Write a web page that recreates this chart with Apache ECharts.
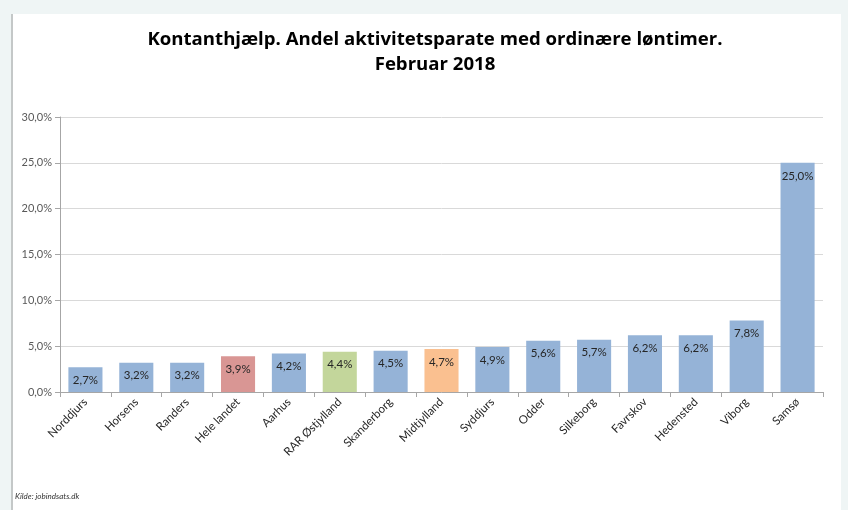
<!DOCTYPE html>
<html>
<head>
<meta charset="utf-8">
<script src="https://cdn.jsdelivr.net/npm/echarts@6/dist/echarts.min.js"></script>
<style>
  html, body { margin: 0; padding: 0; background: #eff5f5; }
  #panel { position: absolute; left: 11px; top: 14px; width: 830px; height: 496px;
           background: #ffffff; border-left: 2px solid #c4c8c8; box-sizing: border-box; }
  #eChart { position: absolute; left: 0; top: 0; width: 848px; height: 510px; }
</style>
</head>
<body>
<div id="panel"></div>
<div id="eChart"></div>
<script>
// data
var categories = ['Norddjurs', 'Horsens', 'Randers', 'Hele landet', 'Aarhus', 'RAR Østjylland',
    'Skanderborg', 'Midtjylland', 'Syddjurs', 'Odder', 'Silkeborg', 'Favrskov',
    'Hedensted', 'Viborg', 'Samsø'];
var values = [2.7, 3.2, 3.2, 3.9, 4.2, 4.4, 4.5, 4.7, 4.9, 5.6, 5.7, 6.2, 6.2, 7.8, 25.0];
var yTicks = [0, 5, 10, 15, 20, 25, 30];

// highlighted bars
var barColor = '#95b3d7';
var specialColors = {
    'Hele landet': '#d99694',
    'RAR Østjylland': '#c3d69b',
    'Midtjylland': '#fac090'
};

function pct(v) {
    return v.toFixed(1).replace('.', ',') + '%';
}

var option = {
    animation: false,
    textStyle: { fontFamily: 'Lato' },
    title: {
        text: 'Kontanthjælp. Andel aktivitetsparate med ordinære løntimer.\nFebruar 2018',
        left: 430,
        textAlign: 'center',
        top: 22,
        textStyle: {
            fontFamily: 'Open Sans',
            fontWeight: 'bold',
            fontSize: 18.6,
            lineHeight: 25,
            color: '#000000'
        }
    },
    graphic: [{
        type: 'text',
        left: 15,
        top: 492,
        style: {
            text: 'Kilde: jobindsats.dk',
            font: 'italic 8px Lato',
            fill: '#333333'
        }
    }],
    grid: {
        left: 60,
        right: 25,
        top: 117,
        bottom: 118
    },
    xAxis: {
        type: 'category',
        data: categories,
        axisLine: { lineStyle: { color: '#a6a6a6' } },
        axisTick: { show: true, length: 5, lineStyle: { color: '#a6a6a6' } },
        axisLabel: {
            rotate: 45,
            interval: 0,
            fontSize: 11.5,
            color: '#262626',
            margin: 8
        }
    },
    yAxis: {
        type: 'value',
        min: yTicks[0],
        max: yTicks[yTicks.length - 1],
        interval: 5,
        axisLine: { show: true, lineStyle: { color: '#a6a6a6' } },
        axisTick: { show: true, length: 5, lineStyle: { color: '#a6a6a6' } },
        splitLine: { lineStyle: { color: '#d9d9d9' } },
        axisLabel: {
            formatter: function (v) { return pct(v); },
            fontSize: 11,
            color: '#595959',
            margin: 8
        }
    },
    series: [{
        type: 'bar',
        barWidth: '67%',
        data: values.map(function (v, i) {
            return {
                value: v,
                itemStyle: { color: specialColors[categories[i]] || barColor }
            };
        }),
        label: {
            show: true,
            position: 'insideTop',
            distance: 7,
            fontSize: 11.5,
            color: '#262626',
            formatter: function (p) { return pct(p.value); }
        }
    }]
};

var _eChart = echarts.init(document.getElementById('eChart'));
_eChart.setOption(option);
</script>
</body>
</html>
